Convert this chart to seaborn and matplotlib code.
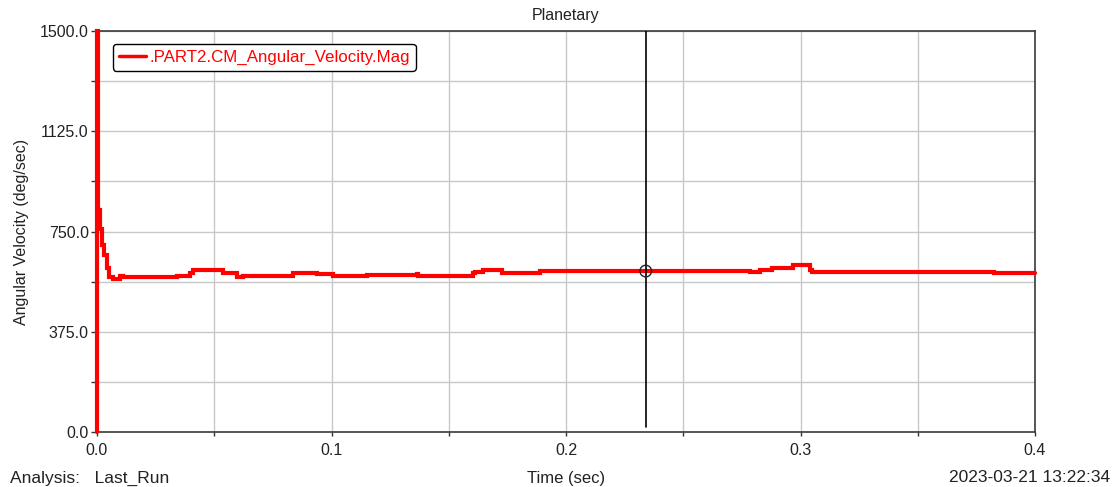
import matplotlib
matplotlib.use("Agg")
import matplotlib.pyplot as plt
import seaborn as sns
import pandas as pd
import numpy as np

sns.set_theme(style="white")
plt.rcParams['font.family'] = ['Liberation Sans', 'DejaVu Sans']

# Data (step-like trace)
time_s = [0.0, 0.0, 0.0004, 0.0014, 0.0020, 0.0030, 0.0043, 0.0051, 0.0068, 0.0098,
          0.0111, 0.0333, 0.0341, 0.0397, 0.0409, 0.0525, 0.0537, 0.0580, 0.0597,
          0.0623, 0.0823, 0.0836, 0.0921, 0.0938, 0.0994, 0.1006, 0.1066, 0.1079,
          0.1134, 0.1151, 0.1365, 0.1369, 0.1556, 0.1603, 0.1612, 0.1646, 0.1719,
          0.1727, 0.1881, 0.1889, 0.2785, 0.2827, 0.2878, 0.2968, 0.3040, 0.3049,
          0.3821, 0.3825, 0.4]
ang_vel = [0.0, 1500.0, 830.0, 760.0, 700.0, 662.0, 613.0, 580.0, 572.0, 583.0,
           580.0, 580.0, 585.0, 594.0, 606.0, 606.0, 595.0, 595.0, 580.0,
           585.0, 585.0, 595.0, 595.0, 590.0, 590.0, 585.0, 585.0, 582.0,
           582.0, 588.0, 590.0, 585.0, 585.0, 593.0, 600.0, 606.0, 606.0,
           596.0, 596.0, 602.0, 600.0, 606.0, 614.0, 624.0, 606.0, 600.0,
           600.0, 594.0, 594.0]

series_label = ".PART2.CM_Angular_Velocity.Mag"
cursor_t = 0.234
cursor_v = 602.0

df = pd.DataFrame({"Time (sec)": time_s, "val": ang_vel})

FS = 11.5
fig = plt.figure(figsize=(11.18, 4.87), dpi=100)
ax = fig.add_axes([97/1118, 55/487, (1035-97)/1118, (432-31)/487])

sns.lineplot(data=df, x="Time (sec)", y="val", ax=ax, color="#ff0000",
             linewidth=3.0, sort=False, estimator=None, label=series_label,
             drawstyle="steps-post", zorder=3)
for ln in ax.get_lines():
    ln.set_clip_on(False)
    ln.set_solid_joinstyle("miter")

ax.set_xlim(0, 0.4)
ax.set_ylim(0, 1500)
ax.set_xticks([0.0, 0.1, 0.2, 0.3, 0.4])
ax.set_xticklabels(["0.0", "0.1", "0.2", "0.3", "0.4"])
ax.set_xticks(np.arange(0.05, 0.4, 0.1), minor=True)
ax.set_yticks([0, 375, 750, 1125, 1500])
ax.set_yticklabels(["0.0", "375.0", "750.0", "1125.0", "1500.0"])
ax.set_yticks([187.5, 562.5, 937.5, 1312.5], minor=True)

ax.grid(True, which="both", color="#c8c8c8", linewidth=1.0, zorder=0)
ax.set_axisbelow(True)
ax.tick_params(axis="both", which="both", direction="out", length=4, width=1,
               color="#333333", labelsize=FS, labelcolor="#222222", pad=2,
               bottom=True, left=True)
ax.tick_params(axis="x", which="both", length=3, pad=5)
for s in ax.spines.values():
    s.set_color("#3a3a3a")
    s.set_linewidth(1.2)
    s.set_visible(True)

# cursor
ax.plot([cursor_t, cursor_t], [0.012 * 1500, 1500], color="black", linewidth=1.2,
        zorder=4)
ax.scatter([cursor_t], [cursor_v], s=70, facecolors="none", edgecolors="#222222",
           linewidths=1.0, zorder=5)

ax.set_title("Planetary", fontsize=FS, color="#222222", pad=8)
ax.set_xlabel("Time (sec)", fontsize=12, color="#222222")
ax.xaxis.set_label_coords(0.5, -(478 - 432) / 401)
ax.xaxis.label.set_va("center")
ax.set_ylabel("Angular Velocity (deg/sec)", fontsize=FS, color="#222222", labelpad=8)

leg = ax.legend(loc="upper left", bbox_to_anchor=(0.017, 0.968), fontsize=12.2,
                frameon=True, fancybox=True, edgecolor="black", handlelength=1.6,
                borderpad=0.35, handletextpad=0.2, borderaxespad=0)
leg.get_frame().set_linewidth(1.0)
leg.get_frame().set_alpha(1.0)
for h in leg.get_lines():
    h.set_linewidth(2.5)
for t in leg.get_texts():
    t.set_color("#ff0000")

fig.text(10/1118, 1 - 478/487, "Analysis:   Last_Run", fontsize=12.5, color="#222222",
         ha="left", va="center")
fig.text(1110/1118, 1 - 478/487, "2023-03-21 13:22:34", fontsize=12.5, color="#222222",
         ha="right", va="center")

fig.savefig("out.png", dpi=100)
